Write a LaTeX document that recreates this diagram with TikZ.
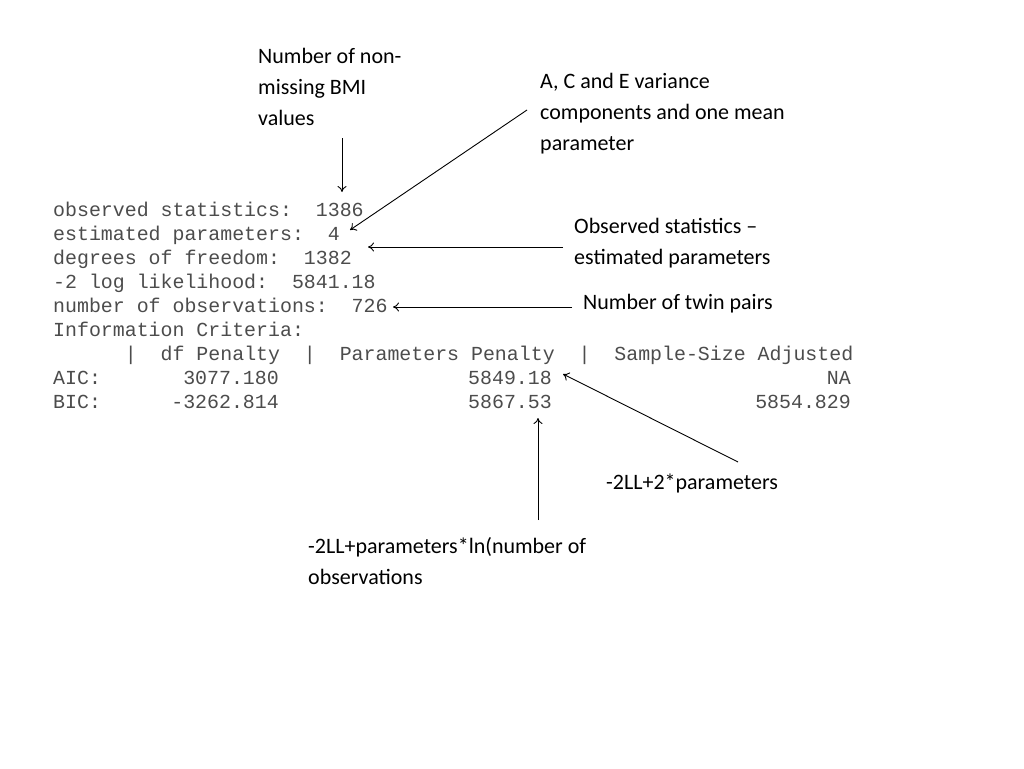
\documentclass[tikz,border=0pt]{standalone}
\usepackage{fontspec}
\usetikzlibrary{arrows.meta}
\setmainfont{Carlito}
\newfontfamily\mono{Liberation Mono}
\begin{document}
\begin{tikzpicture}[x=1pt,y=-1pt,
  code/.style={anchor=base west,inner sep=0pt,font=\mono\fontsize{19.9}{24}\selectfont,text=black!70},
  num/.style={anchor=base east,inner sep=0pt,font=\mono\fontsize{19.9}{24}\selectfont,text=black!70},
  lab/.style={anchor=base west,inner sep=0pt,font=\fontsize{22}{31}\selectfont,align=left},
  arr/.style={-{To[length=6pt,width=9pt]},line width=0.9pt}]
\useasboundingbox (0,0) rectangle (1024,768);
\node[code] (l1) at (53,216) {observed statistics:~~1386};
\node[code] (l2) at (53,240) {estimated parameters:~~4};
\node[code] (l3) at (53,264) {degrees of freedom:~~1382};
\node[code] (l4) at (53,288) {-2 log likelihood:~~5841.18};
\node[code] (l5) at (53,312) {number of observations:~~726};
\node[code] (l6) at (53,336) {Information Criteria:};
\node[code] (l7) at (53,360) {~~~~~~|~~df Penalty~~|~~Parameters Penalty~~|~~Sample-Size Adjusted};
\node[code] (a0) at (53,384) {AIC:};
\node[num] (a1) at (279,384) {3077.180};
\node[num] (a2) at (552,384) {5849.18};
\node[num] (a3) at (851,384) {NA};
\node[code] (b0) at (53,408) {BIC:};
\node[num] (b1) at (279,408) {-3262.814};
\node[num] (b2) at (552,408) {5867.53};
\node[num] (b3) at (851,408) {5854.829};

\node[lab] (t1) at (258,125) {Number of non-\\missing BMI\\values};
\node[lab] (t2) at (540,150) {A, C and E variance\\components and one mean\\parameter};
\node[lab] (t3) at (574,264) {Observed statistics –\\estimated parameters};
\node[lab] (t4) at (583,309) {Number of twin pairs};
\node[lab] (t5) at (606,489) {-2LL+2*parameters};
\node[lab] (t6) at (308,584) {-2LL+parameters*ln(number of\\observations};

\coordinate (s1) at (342,138); \coordinate (e1) at (342,192);
\coordinate (s2) at (527,110); \coordinate (e2) at (350,230);
\coordinate (s3) at (563,247); \coordinate (e3) at (368,247);
\coordinate (s4) at (572,307); \coordinate (e4) at (393,307);
\coordinate (s5) at (738,462); \coordinate (e5) at (563,374);
\coordinate (s6) at (538,520); \coordinate (e6) at (538,418);
\foreach \i in {1,...,6} \draw[arr] (s\i) -- (e\i);
\end{tikzpicture}
\end{document}
